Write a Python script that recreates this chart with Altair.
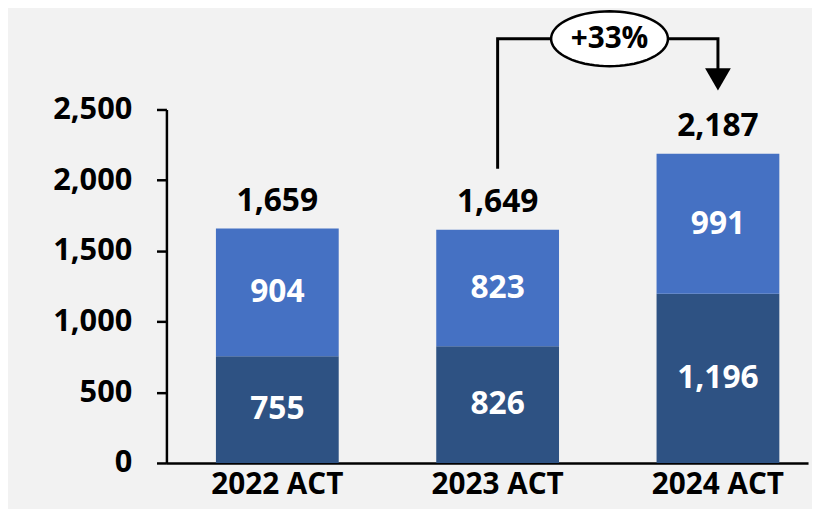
import math
import altair as alt
import pandas as pd

# ---- data ----
years = ["2022 ACT", "2023 ACT", "2024 ACT"]
base_vals = [755, 826, 1196]
upper_vals = [904, 823, 991]
totals = [1659, 1649, 2187]

# growth annotation (data units)
growth_text = "+33%"
bracket_years = ["2023 ACT", "2023 ACT", "2024 ACT", "2024 ACT"]
bracket_vals = [2080, 3000, 3000, 2780]
bracket_order = [0, 1, 2, 3]
ellipse_year = ["2023 ACT"]
ellipse_val = [3000]
arrow_year = ["2024 ACT"]
arrow_val = [2713]

# ---- styling ----
DARK = "#2E5283"
LIGHT = "#4571C3"
BG = "#F2F2F2"
FONT = "Open Sans"

# ellipse outline as a unit-space symbol path (shape only)
_ry = 0.47
_pts = []
for k in range(72):
    a = 2 * math.pi * k / 72
    _pts.append(f"{math.cos(a):.4f},{_ry * math.sin(a):.4f}")
ELLIPSE_PATH = "M" + "L".join(_pts) + "Z"

rows = []
for i, y in enumerate(years):
    rows.append({"year": y, "segment": "base", "order": 0, "value": base_vals[i]})
    rows.append({"year": y, "segment": "upper", "order": 1, "value": upper_vals[i]})
seg_df = pd.DataFrame(rows)
tot_df = pd.DataFrame({"year": years, "total": totals})
br_df = pd.DataFrame({"year": bracket_years, "v": bracket_vals, "o": bracket_order})
el_df = pd.DataFrame({"year": ellipse_year, "v": ellipse_val, "t": [growth_text]})
ar_df = pd.DataFrame({"year": arrow_year, "v": arrow_val})

xscale = alt.Scale(domain=years, paddingInner=0.4427, paddingOuter=0.1775, align=0.633)
yscale = alt.Scale(domain=[0, 2500], nice=False, zero=True)

x_axis = alt.Axis(
    title=None,
    ticks=False,
    domainColor="black",
    domainWidth=2.5,
    labelFont=FONT,
    labelFontSize=30,
    labelFontWeight="bold",
    labelColor="black",
    labelPadding=7,
    labelAngle=0,
)
x_enc = alt.X("year:N", scale=xscale, sort=years, axis=x_axis)

y_axis = alt.Axis(
    title=None,
    values=[0, 500, 1000, 1500, 2000, 2500],
    format=",.0f",
    grid=False,
    domainColor="black",
    domainWidth=2.5,
    tickColor="black",
    tickWidth=2.5,
    tickSize=10,
    labelFont=FONT,
    labelFontSize=31,
    labelFontWeight="bold",
    labelColor="black",
    labelPadding=25,
)


def y_enc(field):
    return alt.Y(field, scale=yscale, axis=y_axis)


stacked = alt.Chart(seg_df).transform_stack(
    stack="value", as_=["y0", "y1"], groupby=["year"], sort=[alt.SortField("order")]
).transform_calculate(mid="(datum.y0 + datum.y1) / 2")

bars = stacked.mark_bar().encode(
    x=x_enc,
    y=y_enc("y0:Q"),
    y2="y1:Q",
    color=alt.Color(
        "segment:N",
        scale=alt.Scale(domain=["base", "upper"], range=[DARK, LIGHT]),
        legend=None,
    ),
)

seg_text = stacked.mark_text(
    font=FONT, fontSize=32, fontWeight="bold", color="white", baseline="middle"
).encode(
    x=x_enc,
    y=y_enc("mid:Q"),
    text=alt.Text("value:Q", format=","),
)

tot_text = alt.Chart(tot_df).mark_text(
    font=FONT, fontSize=32, fontWeight="bold", color="black",
    baseline="alphabetic", dy=-18,
).encode(
    x=x_enc,
    y=y_enc("total:Q"),
    text=alt.Text("total:Q", format=","),
)

bracket = alt.Chart(br_df).mark_line(color="black", strokeWidth=3).encode(
    x=x_enc,
    y=y_enc("v:Q"),
    order="o:Q",
)

arrow = alt.Chart(ar_df).mark_point(
    shape="triangle-down", size=676, filled=True, color="black", opacity=1
).encode(
    x=x_enc,
    y=y_enc("v:Q"),
)

ellipse = alt.Chart(el_df).mark_point(
    shape=ELLIPSE_PATH,
    size=13924,
    filled=True,
    fill="white",
    stroke="black",
    strokeWidth=2.5,
    opacity=1,
    xOffset=113,
).encode(
    x=x_enc,
    y=y_enc("v:Q"),
)

el_text = alt.Chart(el_df).mark_text(
    font=FONT, fontSize=30, fontWeight="bold", color="black",
    baseline="middle", xOffset=113,
).encode(
    x=x_enc,
    y=y_enc("v:Q"),
    text="t:N",
)

chart = alt.layer(
    bars, seg_text, tot_text, bracket, arrow, ellipse, el_text
).properties(
    width=648,
    height=357,
    background=BG,
    autosize=alt.AutoSizeParams(type="none"),
    padding={"left": 160, "top": 100, "right": 4, "bottom": 44},
).configure_view(stroke=None)

chart.save("out.html", embed_options={"renderer": "svg", "actions": False})
